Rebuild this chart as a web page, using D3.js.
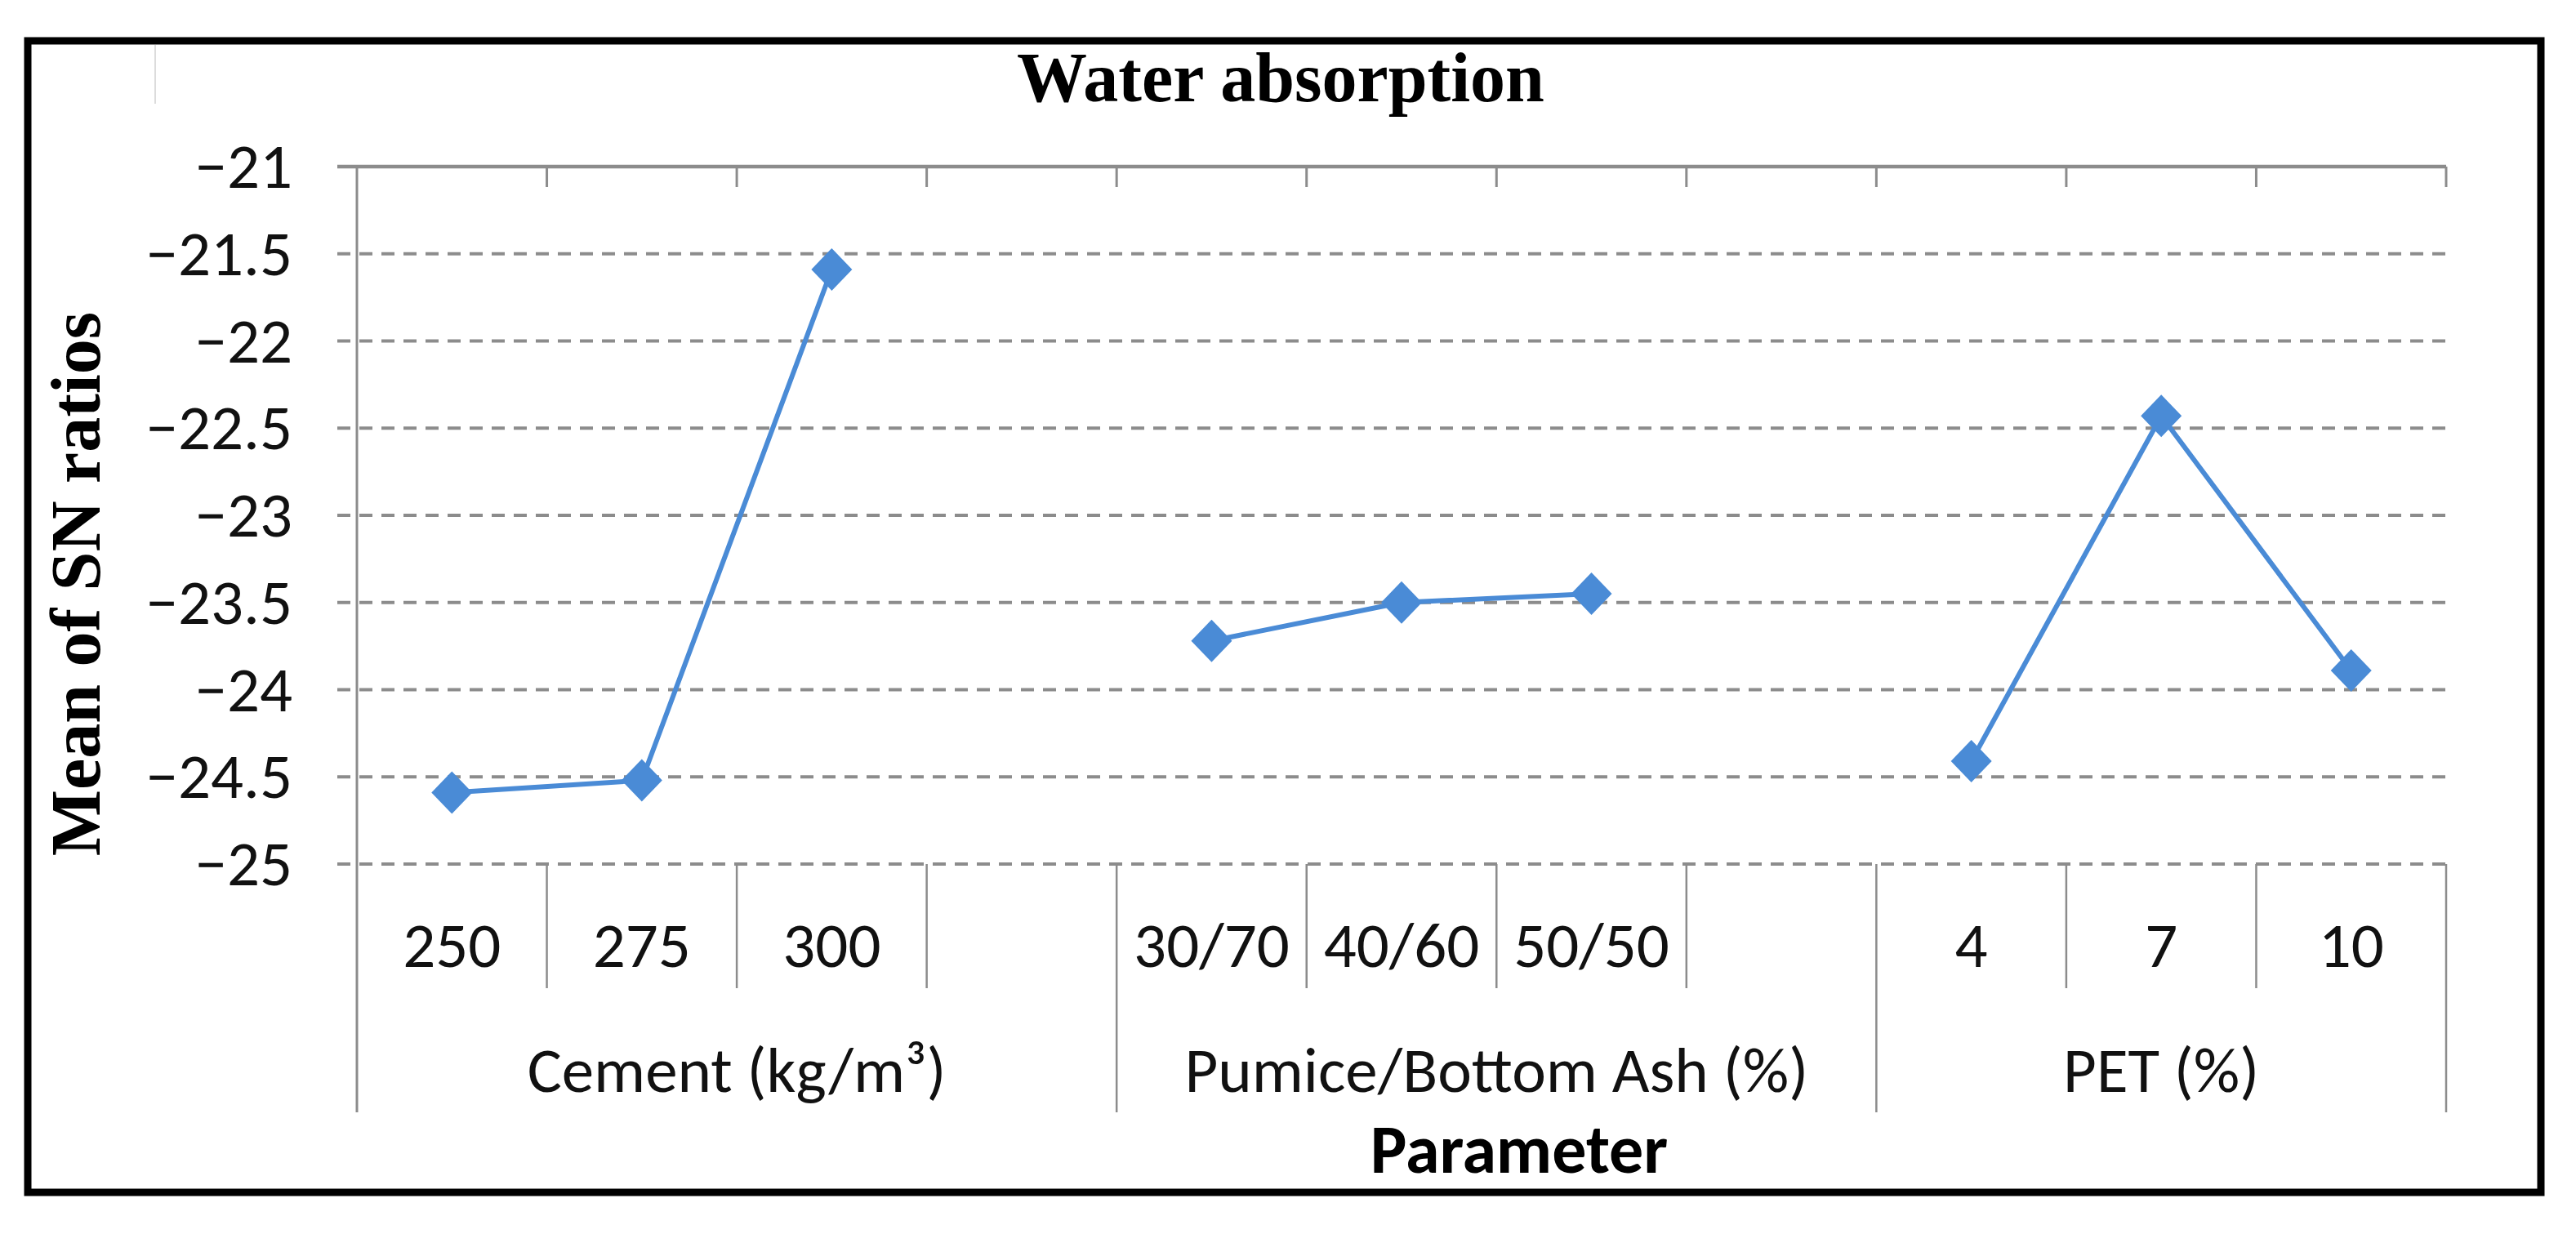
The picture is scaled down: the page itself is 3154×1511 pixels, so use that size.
<!DOCTYPE html>
<html>
<head>
<meta charset="utf-8">
<script src="https://cdn.jsdelivr.net/npm/d3@7/dist/d3.min.js"></script>
<style>
  html, body { margin: 0; padding: 0; background: #ffffff; }
  svg { display: block; }
</style>
</head>
<body>
<script>
// ---------- DATA ----------
const categories = ["250", "275", "300", "", "30/70", "40/60", "50/50", "", "4", "7", "10"];
const groupNames = ["Cement (kg/m³)", "Pumice/Bottom Ash (%)", "PET (%)"];
const groupStart = [0, 4, 8];
const groupEnd   = [3, 7, 10];
const cementValues  = [-24.59, -24.52, -21.59];
const pumiceValues  = [-23.72, -23.50, -23.45];
const petValues     = [-24.41, -22.43, -23.89];
const seriesValues  = [cementValues, pumiceValues, petValues];
const yTicks = [-21, -21.5, -22, -22.5, -23, -23.5, -24, -24.5, -25];
const titleText = "Water absorption";
const yTitleText = "Mean of SN ratios";
const xTitleText = "Parameter";

// ---------- LAYOUT ----------
const W = 3154, H = 1511;
const plotLeft = 437, plotRight = 2995, plotTop = 204, plotBottom = 1058;
const gridColor = "#8c8c8c";
const lineColor = "#4a8bd6";
const sansFont = "Carlito, Calibri, 'Open Sans', sans-serif";
const serifFont = "'Liberation Serif', 'Times New Roman', serif";
const labelSize = 79;

const svg = d3.select("body").append("svg").attr("width", W).attr("height", H);
svg.append("rect").attr("width", W).attr("height", H).attr("fill", "#fff");

const x = d3.scaleBand().domain(d3.range(categories.length)).range([plotLeft, plotRight]).padding(0);
const y = d3.scaleLinear().domain([-25, -21]).range([plotBottom, plotTop]);
const fmt = v => String(v).replace("-", "\u2212");

// frame
svg.append("rect").attr("x", 34).attr("y", 50).attr("width", 3077).attr("height", 1410)
  .attr("fill", "none").attr("stroke", "#000").attr("stroke-width", 9);
// faint stray line
svg.append("line").attr("x1", 190).attr("x2", 190).attr("y1", 55).attr("y2", 127)
  .attr("stroke", "#dcdcdc").attr("stroke-width", 2);

// title
svg.append("text").attr("x", 1568).attr("y", 124).attr("text-anchor", "middle")
  .attr("font-family", serifFont).attr("font-weight", "bold").attr("font-size", 86)
  .attr("fill", "#000").text(titleText);

// y title
svg.append("text").attr("transform", "translate(122,715) rotate(-90)")
  .attr("text-anchor", "middle").attr("font-family", serifFont).attr("font-weight", "bold")
  .attr("font-size", 86).attr("fill", "#000").text(yTitleText);

// gridlines (dashed) for all but top
const grid = svg.append("g");
grid.selectAll("line.g").data(yTicks.filter(t => t !== -21)).enter().append("line")
  .attr("x1", plotLeft - 24).attr("x2", plotRight)
  .attr("y1", d => y(d)).attr("y2", d => y(d))
  .attr("stroke", gridColor).attr("stroke-width", 4).attr("stroke-dasharray", "16,11");

// top axis line (solid) with downward ticks at boundaries
const boundaries = d3.range(categories.length + 1).map(i => i < categories.length ? x(i) : x(categories.length - 1) + x.bandwidth());
svg.append("line").attr("x1", plotLeft - 24).attr("x2", plotRight)
  .attr("y1", y(-21)).attr("y2", y(-21)).attr("stroke", gridColor).attr("stroke-width", 4.5);
svg.selectAll("line.tt").data(boundaries.slice(1)).enter().append("line")
  .attr("x1", d => d).attr("x2", d => d).attr("y1", y(-21)).attr("y2", y(-21) + 25)
  .attr("stroke", gridColor).attr("stroke-width", 3);

// y axis line
svg.append("line").attr("x1", plotLeft).attr("x2", plotLeft).attr("y1", y(-21)).attr("y2", 1362)
  .attr("stroke", gridColor).attr("stroke-width", 3);

// y tick labels
svg.selectAll("text.yt").data(yTicks).enter().append("text")
  .attr("x", 358).attr("y", d => y(d) + 26).attr("text-anchor", "end")
  .attr("font-family", sansFont).attr("font-size", labelSize).attr("fill", "#111").text(fmt);

// category dividers
const groupBounds = new Set([0, ...groupEnd.map(e => e + 1)]);
boundaries.forEach((bx, i) => {
  if (i === 0) return;
  const isLong = groupBounds.has(i);
  svg.append("line").attr("x1", bx).attr("x2", bx).attr("y1", plotBottom)
    .attr("y2", isLong ? 1362 : 1210).attr("stroke", gridColor).attr("stroke-width", 2.5);
});

// category labels
svg.selectAll("text.cat").data(categories).enter().append("text")
  .attr("x", (d, i) => x(i) + x.bandwidth() / 2).attr("y", 1184).attr("text-anchor", "middle")
  .attr("font-family", sansFont).attr("font-size", labelSize).attr("fill", "#111").text(d => d);

// group labels
groupNames.forEach((g, gi) => {
  const cx = (x(groupStart[gi]) + x(groupEnd[gi]) + x.bandwidth()) / 2;
  svg.append("text").attr("x", cx).attr("y", 1337).attr("text-anchor", "middle")
    .attr("font-family", sansFont).attr("font-size", labelSize).attr("fill", "#111").text(g);
});

// x title
svg.append("text").attr("x", 1860).attr("y", 1436).attr("text-anchor", "middle")
  .attr("font-family", sansFont).attr("font-weight", "bold").attr("font-size", 84)
  .attr("fill", "#000").text(xTitleText);

// series lines and markers
const line = d3.line().x(d => d[0]).y(d => d[1]);
seriesValues.forEach((vals, gi) => {
  const pts = vals.map((v, k) => [x(groupStart[gi] + k) + x.bandwidth() / 2, y(v)]);
  svg.append("path").attr("d", line(pts)).attr("fill", "none")
    .attr("stroke", lineColor).attr("stroke-width", 6).attr("stroke-linejoin", "round");
  svg.selectAll(null).data(pts).enter().append("path")
    .attr("d", d => `M${d[0]},${d[1] - 26}L${d[0] + 25},${d[1]}L${d[0]},${d[1] + 26}L${d[0] - 25},${d[1]}Z`)
    .attr("fill", lineColor);
});
</script>
</body>
</html>
